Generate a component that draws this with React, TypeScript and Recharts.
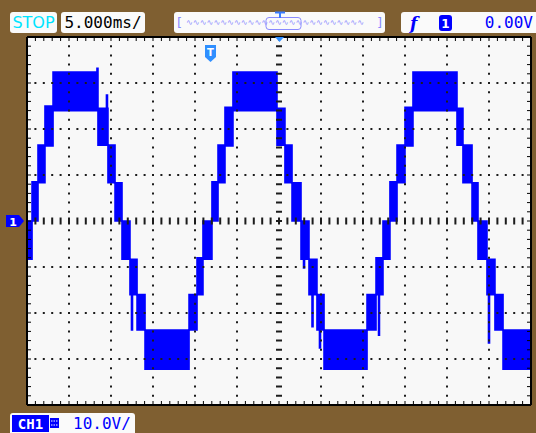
import React from 'react';
import { ComposedChart, Area, XAxis, YAxis, CartesianGrid, ReferenceLine } from 'recharts';

// CH1 trace, read as a stepped band: segment edges (ms) and low/high envelope (V)
const edgesMs = [0, 0.6, 1.31, 2.14, 3.1, 5.89, 6.01, 8.33, 8.45, 9.46, 9.58, 9.64, 10.48, 11.31, 12.26, 12.44, 12.56, 13.1, 14.05, 16.61, 16.73, 19.29, 20.24, 20.95, 22.02, 22.74, 23.57, 24.52, 27.92, 28.04, 29.76, 30.71, 31.55, 32.62, 32.92, 33.04, 33.57, 33.93, 34.05, 34.52, 34.82, 34.94, 35.36, 40.48, 41.55, 41.85, 41.96, 42.38, 43.21, 44.05, 45, 45.95, 48.27, 48.39, 51.19, 51.9, 52.98, 53.69, 54.76, 54.94, 55.06, 55.71, 56.67, 60];
const lowV = [-8.3, 0, 8.3, 16.3, 24, 25.4, 24, 24, 16.5, 16.5, 16.5, 8.3, 0, -8.3, -16, -23.7, -16, -23.7, -32.2, -32.2, -32.2, -23.7, -16, -8.3, 0, 8.3, 16.3, 24, 25, 24, 16.5, 8.3, 0, -8.3, -10.2, -8.3, -16, -23, -16, -23.7, -27.6, -23.7, -32.2, -23.7, -16, -24.8, -16, -8.3, 0, 8.3, 16.3, 24, 26.3, 24, 16.5, 8.3, 0, -8.3, -16, -26.5, -16, -23.7, -32.2];
const highV = [0, 8.5, 16.5, 25, 32.4, 32.4, 32.4, 33.2, 24.5, 27.4, 24.5, 16.5, 8.3, 0, -8.3, -8.3, -8.3, -16, -23.7, -27, -23.7, -16, -8, 0, 8.5, 16.5, 24.7, 32.4, 32.4, 32.4, 24.5, 16.5, 8.3, 0, 0, 0, -8.3, -8.3, -8.3, -16, -16, -16, -23.7, -16, -8, -8, -8, 0, 8.5, 16.5, 24.7, 32.4, 32.4, 32.4, 24.5, 16.5, 8.3, 0, -8.3, -8.3, -8.3, -16, -23.7];

// 5 ms/div x 12, 10 V/div x 8, five minor ticks per division
const xMinorTicks = Array.from({ length: 61 }, (_, i) => i);
const yMinorTicks = Array.from({ length: 41 }, (_, i) => -40 + i * 2);
const xDivs = [5, 10, 15, 20, 25, 35, 40, 45, 50, 55];
const yDivs = [-30, -20, -10, 10, 20, 30];

const trace = lowV.flatMap((lo, i) => [
  { t: edgesMs[i], band: [lo, highV[i]] },
  { t: edgesMs[i + 1], band: [lo, highV[i]] },
]);

const BROWN = '#7f5f31';
const DOT = '#1c1c1c';
const noTick = () => <g />;

const frameAxis = {
  interval: 0 as const,
  mirror: true,
  tick: noTick,
  tickSize: 4,
  tickLine: { stroke: '#000', strokeWidth: 1 },
  axisLine: { stroke: '#000', strokeWidth: 2 },
  allowDataOverflow: true,
};

const box: React.CSSProperties = {
  position: 'absolute',
  top: 12,
  height: 21,
  background: '#fafafa',
  borderRadius: 3,
};

export default function App() {
  return (
    <div style={{ position: 'fixed', left: 0, top: 0, width: 536, height: 433, background: BROWN, overflow: 'hidden', fontFamily: '"DejaVu Sans Mono", monospace' }}>
      <div style={{ position: 'absolute', left: 0, top: 0 }}>
        <ComposedChart width={536} height={433} data={trace} margin={{ top: 37, right: 5, bottom: 28, left: 27 }}>
          <CartesianGrid fill="#f8f8f8" horizontal={false} vertical={false} />
          {yDivs.map(v => (
            <ReferenceLine key={'h' + v} y={v} stroke={DOT} strokeWidth={2} strokeDasharray="2 6.4" strokeDashoffset={1} />
          ))}
          {xDivs.map(v => (
            <ReferenceLine key={'v' + v} x={v} stroke={DOT} strokeWidth={2} strokeDasharray="2 7.2" strokeDashoffset={1} />
          ))}
          <ReferenceLine y={0} stroke={DOT} strokeWidth={7} strokeDasharray="2 6.4" strokeDashoffset={1} />
          <ReferenceLine x={30} stroke={DOT} strokeWidth={6} strokeDasharray="2 7.2" strokeDashoffset={1} />
          <Area
            dataKey="band"
            type="linear"
            stroke="#0000ff"
            strokeWidth={1.6}
            fill="#0000ff"
            fillOpacity={1}
            dot={false}
            activeDot={false}
            isAnimationActive={false}
          />
          <XAxis dataKey="t" type="number" domain={[0, 60]} ticks={xMinorTicks} {...frameAxis} />
          <XAxis xAxisId="top" orientation="top" dataKey="t" type="number" domain={[0, 60]} ticks={xMinorTicks} {...frameAxis} />
          <YAxis type="number" domain={[-40, 40]} ticks={yMinorTicks} {...frameAxis} />
          <YAxis yAxisId="right" orientation="right" type="number" domain={[-40, 40]} ticks={yMinorTicks} {...frameAxis} />
        </ComposedChart>
      </div>

      {/* status bar */}
      <div style={{ ...box, left: 10, width: 47, color: '#00e4ff', fontFamily: '"DejaVu Sans", sans-serif', fontSize: 16, lineHeight: '21px', textAlign: 'center' }}>STOP</div>
      <div style={{ ...box, left: 61, width: 84, color: '#000', fontSize: 16, lineHeight: '21px', textAlign: 'center' }}>5.000ms/</div>
      <div style={{ ...box, left: 174, width: 211 }} />
      <div style={{ ...box, left: 401, width: 140, borderRadius: '3px 0 0 3px' }} />
      <div style={{ position: 'absolute', left: 10, top: 413, width: 125, height: 22, background: '#fafafa', borderRadius: '3px 3px 0 0' }} />

      <svg width={536} height={433} style={{ position: 'absolute', left: 0, top: 0, pointerEvents: 'none' }}>
        {/* overview strip */}
        <text x={177} y={27} fontSize={13} fill="#8a8aff" fontFamily="DejaVu Sans">[</text>
        <text x={186} y={25} fontSize={8} fill="#8a8aff" fontFamily="DejaVu Sans" textLength={178} lengthAdjust="spacingAndGlyphs">
          {'∿'.repeat(26)}
        </text>
        <text x={377} y={27} fontSize={13} fill="#8a8aff" fontFamily="DejaVu Sans">]</text>
        <rect x={266} y={17.5} width={35} height={12} rx={3} fill="none" stroke="#8a8aff" strokeWidth={1} />
        <path d="M275 12.5 H285 M280 12.5 V18" stroke="#3a7cff" strokeWidth={2} />

        {/* trigger box */}
        <text x={410} y={29} fontSize={17} fontWeight="bold" fill="#0000ff" fontFamily="DejaVu Serif" fontStyle="italic">f</text>
        <rect x={439} y={15} width={13} height={16} rx={3} fill="#0000ff" />
        <text x={445.5} y={28} fontSize={12} fontWeight="bold" fill="#fff" textAnchor="middle" fontFamily="DejaVu Sans">1</text>
        <text x={533} y={28} fontSize={16} fill="#0000ff" textAnchor="end" fontFamily="DejaVu Sans Mono">0.00V</text>

        {/* horizontal position and trigger markers */}
        <path d="M275 37 H284 L279.5 42 Z" fill="#2f8fff" />
        <path d="M205 45 H216 V57 L210.5 62 L205 57 Z" fill="#2f8fff" />
        <text x={210.5} y={56} fontSize={10} fontWeight="bold" fill="#fff" textAnchor="middle" fontFamily="DejaVu Sans">T</text>

        {/* channel 1 ground marker */}
        <path d="M6 215 H19 L24 221 L19 227 H6 Z" fill="#0000ff" />
        <text x={13} y={225.5} fontSize={11} fontWeight="bold" fill="#fff" textAnchor="middle" fontFamily="DejaVu Sans">1</text>

        {/* channel scale */}
        <rect x={12} y={415} width={37} height={17} fill="#0000ff" />
        <text x={30.5} y={428.5} fontSize={14} fontWeight="bold" fill="#fff" textAnchor="middle" fontFamily="DejaVu Sans Mono">CH1</text>
        <rect x={50} y={418} width={9} height={10} fill="#0000ff" />
        <path d="M51 421 H58 M51 425 H58" stroke="#fff" strokeWidth={1} strokeDasharray="1.5 1" />
        <text x={73} y={429} fontSize={16} fill="#0000ff" fontFamily="DejaVu Sans Mono">10.0V/</text>
      </svg>
    </div>
  );
}
